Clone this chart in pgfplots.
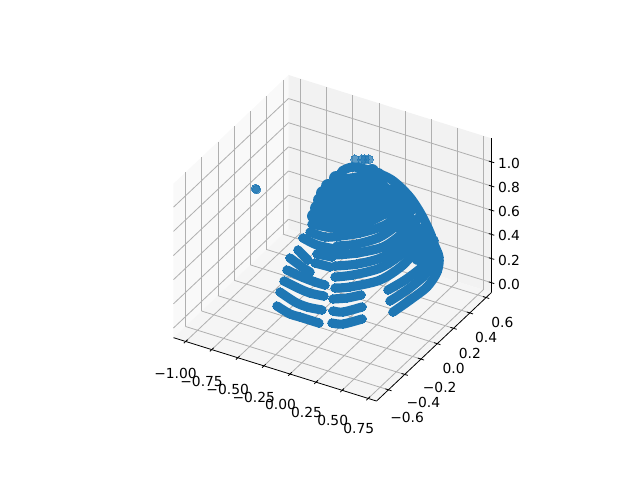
\documentclass[border=0pt]{standalone}
\usepackage{fontspec}
\setmainfont{DejaVu Sans}
\usepackage{pgfplots}
\pgfplotsset{compat=1.18}
\definecolor{mplblue}{HTML}{1F77B4}
\pgfplotsset{
  dotrow/.style={mplblue, line width=6.6bp, line cap=round, line join=round, smooth,
    mark=*, mark size=3bp, mark options={line width=0pt, draw=mplblue, fill=mplblue}},
  dotfill/.style={dotrow, line width=10bp},
  pane/.style={on layer=axis background, draw=none, fill=#1},
  spine/.style={on layer=axis lines, black, line width=0.58bp}
}
\begin{document}
\begin{tikzpicture}
\begin{axis}[
  at={(252.5bp,124.56bp)}, anchor=origin,
  set layers=standard,
  x={(75.1bp,-23.44bp)}, y={(58.6bp,55.37bp)}, z={(0bp,86.98bp)},
  xmin=-1.117, xmax=0.83,
  ymin=-0.746, ymax=0.667,
  zmin=-0.08, zmax=1.195,
  clip=false,
  axis line style={draw=none},
  grid=major,
  major grid style={draw=black!31, line width=0.58bp},
  tick style={draw=none},
  tick align=center,
  major tick length=5bp,
  xtick={-1,-0.75,-0.5,-0.25,0,0.25,0.5,0.75},
  xticklabels={−1.00,−0.75,−0.50,−0.25,0.00,0.25,0.50,0.75},
  ytick={-0.6,-0.4,-0.2,0,0.2,0.4,0.6},
  yticklabels={−0.6,−0.4,−0.2,0.0,0.2,0.4,0.6},
  ztick={0,0.2,0.4,0.6,0.8,1},
  zticklabels={0.0,0.2,0.4,0.6,0.8,1.0},
  xtick pos=left, ytick pos=left, ztick pos=right,
  ticklabel style={font=\fontsize{10}{12}\selectfont},
  xticklabel style={xshift=-0.5bp, yshift=-9.4bp},
  yticklabel style={xshift=1.5bp, yshift=-6.5bp},
  zticklabel style={xshift=-0.7bp, yshift=-5.4bp},
]
% panes
\addplot3[pane={black!2.5}] coordinates {(-1.117,-0.746,-0.08)(-1.117,0.667,-0.08)(-1.117,0.667,1.195)(-1.117,-0.746,1.195)(-1.117,-0.746,-0.08)};
\addplot3[pane={black!5}] coordinates {(-1.117,0.667,-0.08)(0.83,0.667,-0.08)(0.83,0.667,1.195)(-1.117,0.667,1.195)(-1.117,0.667,-0.08)};
\addplot3[pane={black!3.75}] coordinates {(-1.117,-0.746,-0.08)(0.83,-0.746,-0.08)(0.83,0.667,-0.08)(-1.117,0.667,-0.08)(-1.117,-0.746,-0.08)};
% the three axis lines and their ticks
\addplot3[spine] coordinates {(-1.117,-0.746,-0.08)(0.83,-0.746,-0.08)};
\addplot3[spine] coordinates {(0.83,-0.746,-0.08)(0.83,0.667,-0.08)};
\addplot3[spine] coordinates {(0.83,0.667,-0.08)(0.83,0.667,1.195)};
\pgfplotsinvokeforeach{-1,-0.75,-0.5,-0.25,0,0.25,0.5,0.75}{
  \addplot3[spine] coordinates {(#1,-0.769,-0.08)(#1,-0.723,-0.08)};
}
\pgfplotsinvokeforeach{-0.6,-0.4,-0.2,0,0.2,0.4,0.6}{
  \addplot3[spine] coordinates {(0.8,#1,-0.08)(0.86,#1,-0.08)};
}
\pgfplotsinvokeforeach{0,0.2,0.4,0.6,0.8,1}{
  \addplot3[spine] coordinates {(0.804,0.667,#1)(0.856,0.667,#1)};
}
% stray points, paler
\addplot3[only marks, mark=*, mark size=3.1bp, mark options={line width=0pt, draw=mplblue, fill=mplblue, opacity=0.7}] coordinates {
(-0.6685,-0.313,1)(-0.6536,-0.3197,1)
(-0.1742,0.276,1)(-0.1238,0.2974,1)(-0.1022,0.3065,1)(-0.0733,0.3187,1)};
% upper rows, packed tight
\addplot3[dotrow] coordinates {(-0.3296,-0.0776,0.581)(-0.212,-0.0439,0.55)(-0.1059,0.0042,0.556)(0.0327,0.0725,0.575)(0.1978,0.1678,0.625)(0.3318,0.2787,0.731)};
\addplot3[dotrow] coordinates {(-0.3301,-0.0524,0.631)(-0.1569,0.0081,0.606)(0.0196,0.0892,0.619)(0.1773,0.1942,0.694)(0.3297,0.2938,0.763)};
\addplot3[dotfill] coordinates {(-0.3306,-0.0271,0.681)(-0.1718,0.0273,0.656)(0.0046,0.1084,0.669)(0.1623,0.2133,0.744)(0.2696,0.2971,0.819)};
\addplot3[dotfill] coordinates {(-0.3239,0.0011,0.731)(-0.1868,0.0465,0.706)(-0.0103,0.1275,0.719)(0.1474,0.2325,0.794)(0.2152,0.293,0.856)};
\addplot3[dotfill] coordinates {(-0.3173,0.0295,0.781)(-0.2017,0.0656,0.756)(-0.0253,0.1467,0.769)(0.1324,0.2516,0.844)};
\addplot3[dotfill] coordinates {(-0.3088,0.0554,0.825)(-0.2148,0.0824,0.8)(-0.0402,0.1659,0.819)(0.0815,0.2556,0.894)};
\addplot3[dotfill] coordinates {(-0.2859,0.0874,0.869)(-0.1938,0.1167,0.85)(-0.0552,0.185,0.869)(0.054,0.2663,0.938)};
\addplot3[dotfill] coordinates {(-0.2431,0.131,0.919)(-0.1726,0.1512,0.9)(-0.0557,0.2103,0.919)(0.0032,0.2576,0.963)};
% filling inside the right flank
\addplot3[dotfill] coordinates {(0.0056,0.2299,0.906)(0.1324,0.2516,0.844)(0.2541,0.2554,0.75)(0.3724,0.2513,0.644)(0.4818,0.2339,0.519)(0.5657,0.2248,0.431)};
\addplot3[dotfill] coordinates {(0.0735,0.2044,0.8)(0.2095,0.2143,0.706)(0.3259,0.2125,0.606)(0.4317,0.1999,0.494)(0.4973,0.1895,0.419)};
\addplot3[dotfill] coordinates {(0.3288,0.2457,0.669)(0.4271,0.2427,0.581)(0.5291,0.2348,0.481)};
% left rows
\addplot3[dotrow] coordinates {(-0.429,-0.3557,0.119)(-0.3204,-0.3351,0.069)(-0.2427,-0.3118,0.05)(-0.0946,-0.2682,0.0125)};
\addplot3[dotrow] coordinates {(-0.4336,-0.3129,0.206)(-0.3068,-0.2912,0.144)(-0.211,-0.2665,0.113)(-0.0973,-0.228,0.094)};
\addplot3[dotrow] coordinates {(-0.4253,-0.2744,0.275)(-0.3113,-0.2485,0.231)(-0.2155,-0.2238,0.2)(-0.1091,-0.1883,0.181)};
\addplot3[dotrow] coordinates {(-0.4243,-0.239,0.344)(-0.3031,-0.2099,0.3)(-0.2,-0.1822,0.269)(-0.1223,-0.1589,0.25)};
\addplot3[dotrow] coordinates {(-0.4251,-0.201,0.419)(-0.3218,-0.186,0.363)(-0.2547,-0.1735,0.331)};
\addplot3[dotrow] coordinates {(-0.2356,-0.1367,0.388)(-0.12,-0.1006,0.363)};
\addplot3[dotrow] coordinates {(-0.3823,-0.1575,0.469)(-0.2917,-0.1509,0.406)};
\addplot3[dotrow] coordinates {(-0.238,-0.109,0.444)(-0.1243,-0.0705,0.425)};
\addplot3[dotrow] coordinates {(-0.3688,-0.1134,0.544)(-0.2548,-0.0875,0.5)(-0.1176,-0.0422,0.475)};
% middle rows
\addplot3[dotrow] coordinates {(-0.0009,-0.2286,0.0125)(0.0803,-0.1974,0.006)(0.2078,-0.1274,0.038)};
\addplot3[dotrow] coordinates {(-0.0161,-0.1967,0.088)(0.0578,-0.1686,0.081)(0.1854,-0.0987,0.113)};
\addplot3[dotrow] coordinates {(-0.0386,-0.168,0.163)(0.0605,-0.1229,0.169)(0.1558,-0.073,0.188)};
% long rows running up to the right
\addplot3[dotrow] coordinates {(-0.0447,-0.1356,0.231)(0.0615,-0.0874,0.238)(0.2646,0.0209,0.281)(0.4023,0.127,0.375)(0.4874,0.2267,0.5)(0.5283,0.2727,0.556)};
\addplot3[dotrow] coordinates {(-0.0653,-0.1092,0.3)(0.0607,-0.0495,0.313)(0.2422,0.0496,0.356)(0.3799,0.1558,0.45)(0.4955,0.2779,0.594)};
\addplot3[dotrow] coordinates {(-0.0858,-0.0829,0.369)(0.0689,-0.011,0.381)(0.2432,0.0851,0.425)(0.3844,0.1991,0.531)(0.4556,0.2674,0.606)};
\addplot3[dotrow] coordinates {(-0.1064,-0.0565,0.438)(0.0484,0.0154,0.45)(0.2245,0.109,0.488)(0.3425,0.2037,0.575)(0.4225,0.2853,0.669)};
\addplot3[dotrow] coordinates {(-0.1088,-0.0289,0.494)(0.0315,0.0369,0.506)(0.1843,0.1239,0.55)(0.3022,0.2184,0.638)(0.3644,0.2861,0.719)};
% outer edge of the dome
\addplot3[dotrow] coordinates {(-0.2129,0.166,0.963)(-0.1412,0.2091,0.988)(0.0032,0.2576,0.963)(0.1642,0.297,0.906)(0.3166,0.3106,0.806)(0.4367,0.3041,0.694)(0.548,0.2843,0.563)(0.6105,0.2534,0.45)};
% right arcs
\addplot3[dotrow] coordinates {(0.4181,-0.0161,0.081)(0.5182,0.0645,0.156)(0.6164,0.1475,0.238)(0.6604,0.214,0.331)(0.6467,0.256,0.425)(0.5646,0.2753,0.531)};
\addplot3[dotrow] coordinates {(0.3759,0.0011,0.15)(0.4778,0.0793,0.219)(0.5688,0.1593,0.3)(0.6273,0.2318,0.394)(0.6321,0.2625,0.45)};
\addplot3[dotrow] coordinates {(0.3409,0.0213,0.219)(0.4447,0.0972,0.281)(0.5429,0.1801,0.363)(0.5889,0.2442,0.45)(0.579,0.2814,0.531)};
\end{axis}
\pgfresetboundingbox
\path[use as bounding box] (0,0) rectangle (460.8bp,345.6bp);
\end{tikzpicture}
\end{document}
